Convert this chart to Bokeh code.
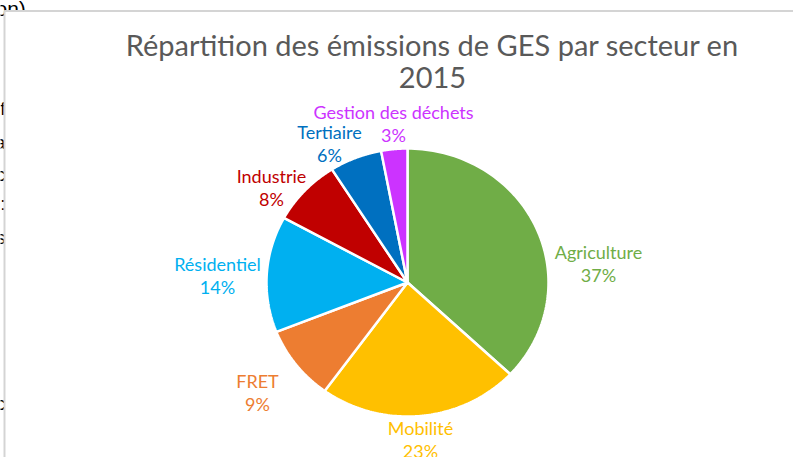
import numpy as np
from bokeh.plotting import figure
from bokeh.models import Range1d, ColumnDataSource
from bokeh.core.properties import value
from bokeh.embed import file_html
from bokeh.resources import INLINE

# ---- data ----
sectors = ["Agriculture", "Mobilité", "FRET", "Résidentiel", "Industrie", "Tertiaire", "Gestion des déchets"]
shares = [37, 23, 9, 14, 8, 6, 3]
colors = ["#70AD47", "#FFC000", "#ED7D31", "#00B0F0", "#C00000", "#0070C0", "#CC33FF"]
title_lines = ["Répartition des émissions de GES par secteur en", "2015"]

# ---- layout (screen pixel coordinates of the reference) ----
CX, CY, RX, RY = 407, 282, 141, 134
label_pos = [(598, 251), (420, 427), (257, 380), (217, 263), (271, 175), (329, 131), (393, 111)]
LINE_GAP = 23

W, H = 793, 457
p = figure(width=W, height=H, output_backend="svg", toolbar_location=None,
           x_range=Range1d(0, W), y_range=Range1d(H, 0),
           min_border=0)
p.axis.visible = False
p.grid.visible = False
p.outline_line_color = None
p.background_fill_color = "white"

# surrounding document fragments and chart frame
p.text(x=[-5], y=[8], text=["on)"], text_color="#000000", text_align="left",
       text_baseline="alphabetic", text_font=value("Liberation Sans"), text_font_size="21px")
frag_y = [108, 142, 174, 203, 237, 403]
frag_t = ["f", "a", "c", ":", "s", "c"]
p.text(x=[5] * len(frag_t), y=frag_y, text=frag_t, text_color="#000000", text_align="right",
       text_baseline="middle", text_font=value("Liberation Sans"), text_font_size="19px")
p.quad(left=[4], right=[W + 5], top=[10.5], bottom=[H + 5], fill_color="white",
       line_color="#D4D4D4", line_width=2)

total = float(sum(shares))
fr = np.cumsum([0] + shares) / total
xs, ys = [], []
for i in range(len(shares)):
    t = np.linspace(fr[i], fr[i + 1], 90) * 2 * np.pi
    px = np.concatenate([[CX], CX + RX * np.sin(t)])
    py = np.concatenate([[CY], CY - RY * np.cos(t)])
    xs.append(list(px))
    ys.append(list(py))

src = ColumnDataSource(dict(xs=xs, ys=ys, color=colors))
p.patches("xs", "ys", source=src, fill_color="color", line_color="white", line_width=2.5)

# data labels
lx = [q[0] for q in label_pos]
ly = [q[1] for q in label_pos]
lab = ColumnDataSource(dict(x=lx, y=ly, y2=[v + LINE_GAP for v in ly], name=sectors,
                            pct=[f"{v}%" for v in shares], color=colors))
p.text("x", "y", text="name", source=lab, text_color="color", text_align="center",
       text_baseline="middle", text_font=value("Lato"), text_font_size="18px")
p.text("x", "y2", text="pct", source=lab, text_color="color", text_align="center",
       text_baseline="middle", text_font=value("Lato"), text_font_size="18px")

# title
p.text(x=[432, 432], y=[44, 77], text=title_lines, text_color="#595959",
       text_align="center", text_baseline="middle", text_font=value("Lato"),
       text_font_size="29px")

open("out.html", "w").write(file_html(p, INLINE))
